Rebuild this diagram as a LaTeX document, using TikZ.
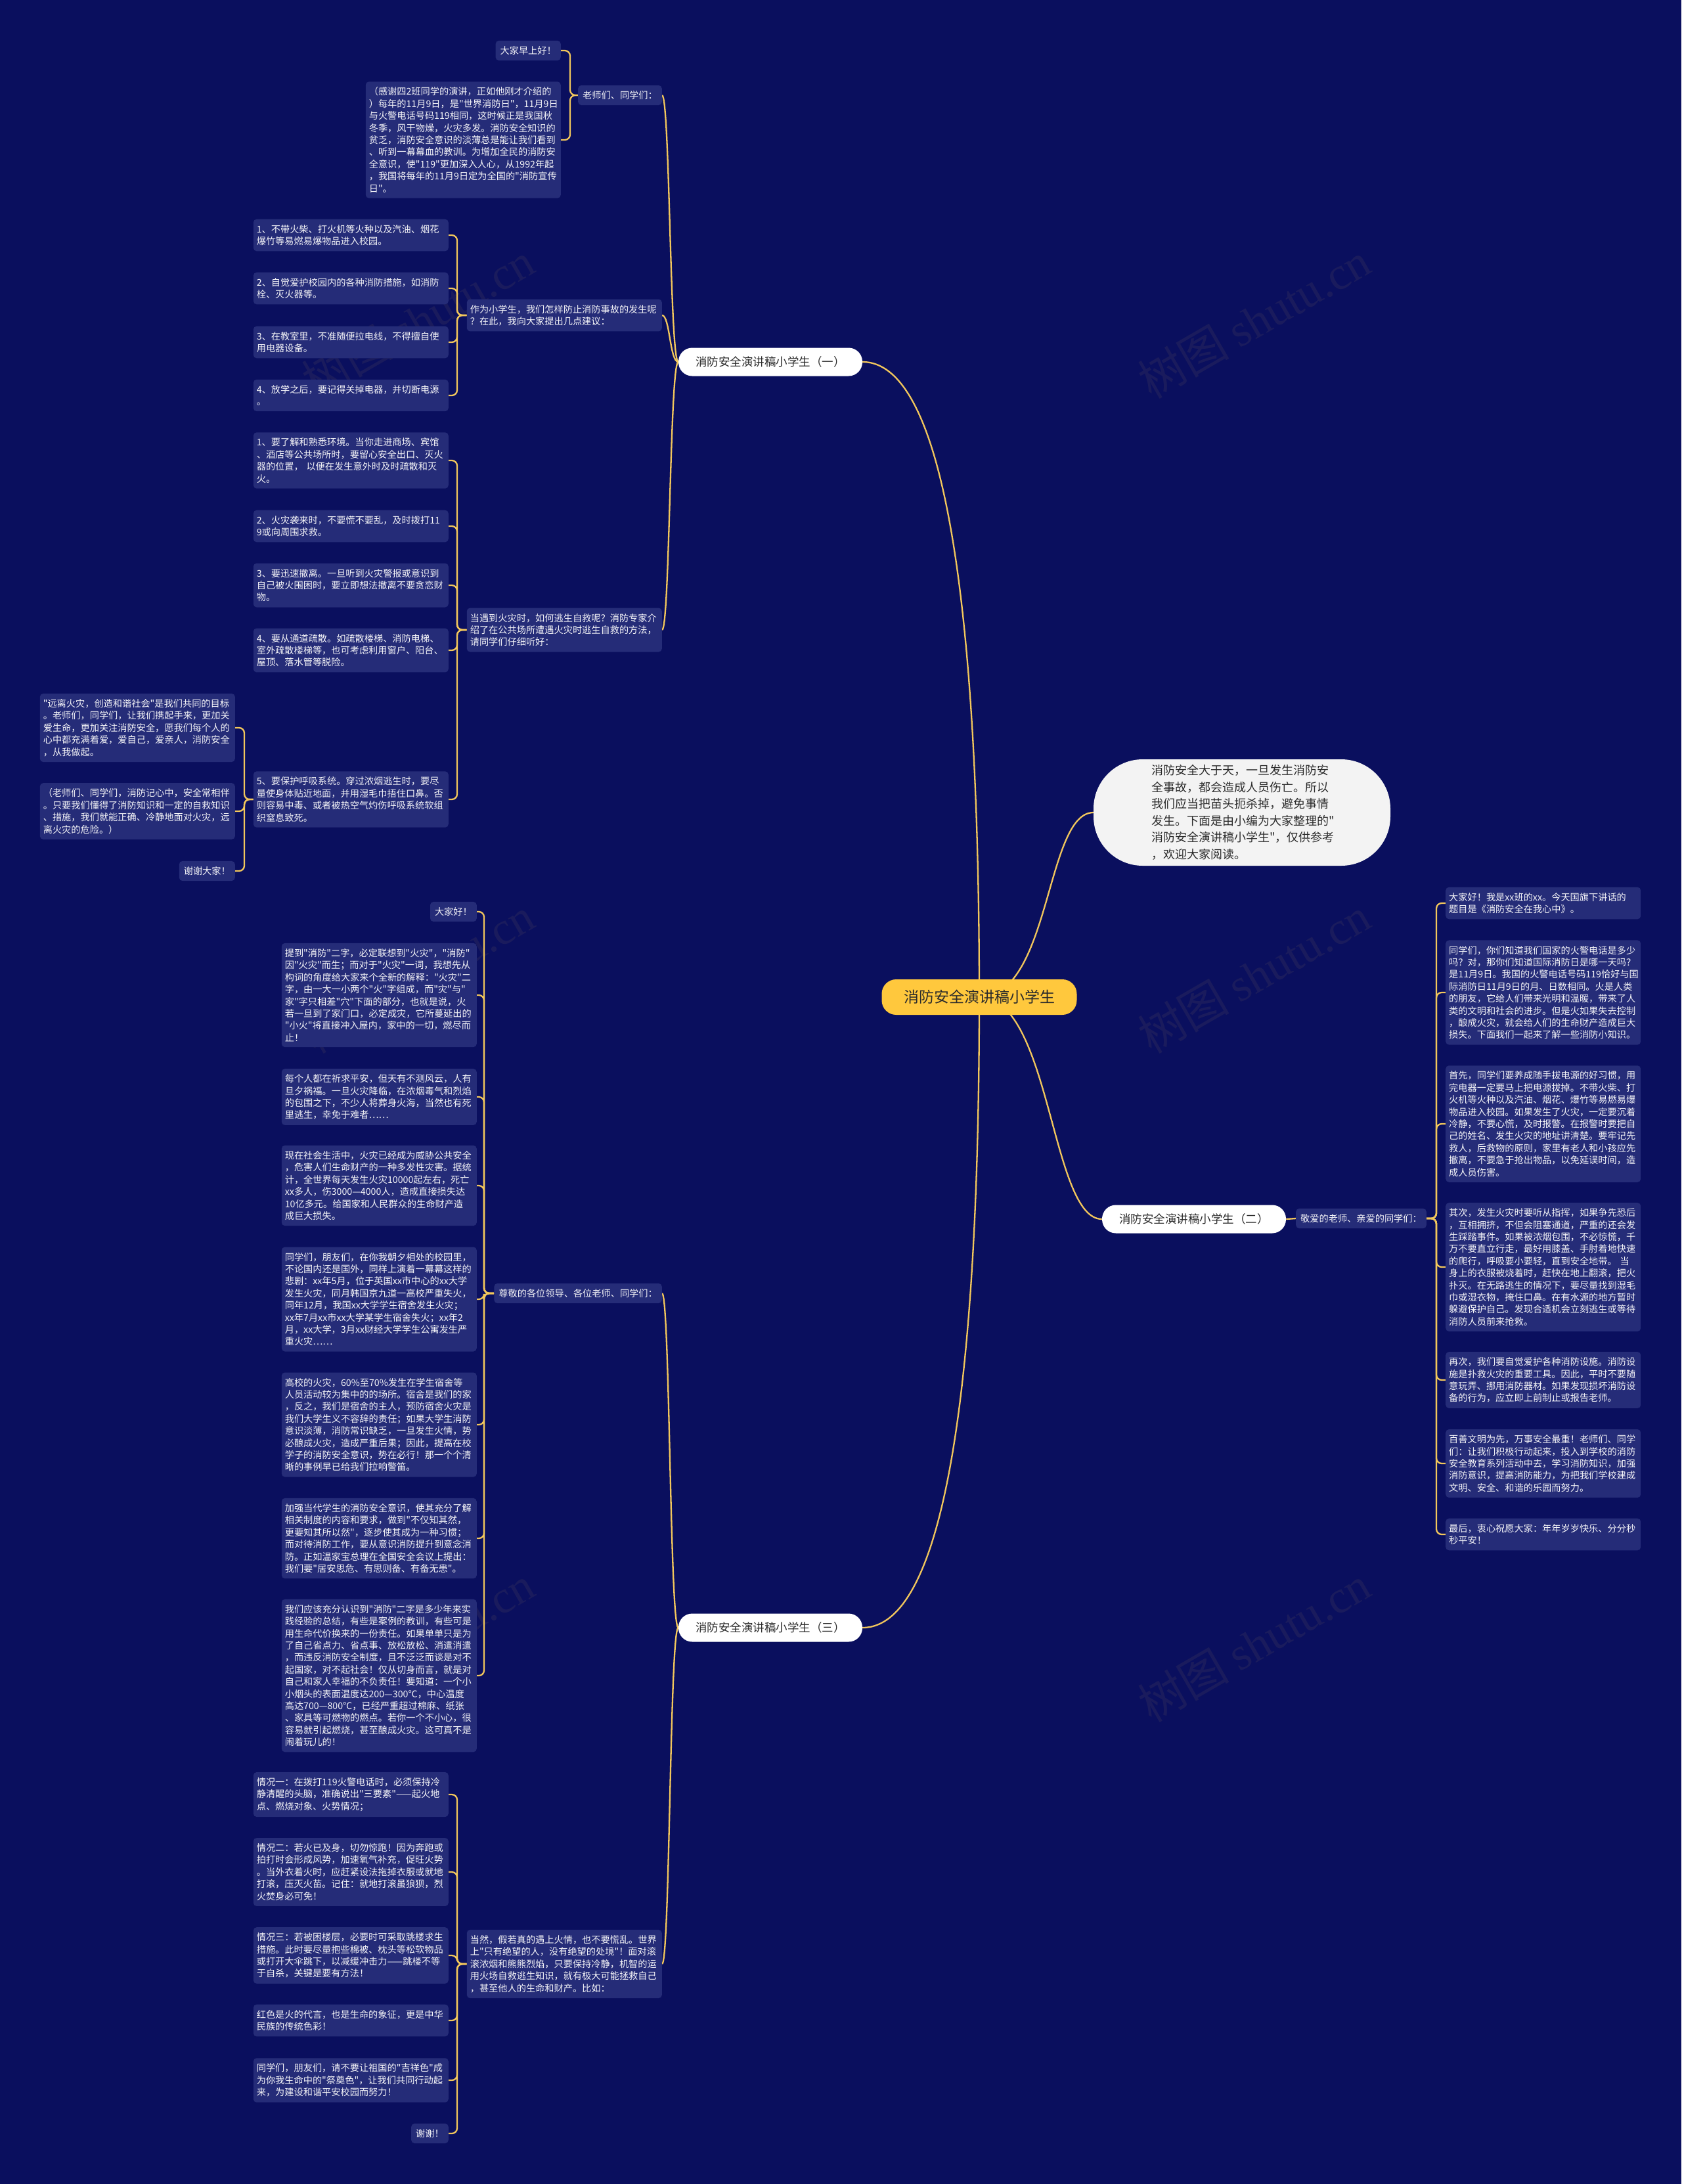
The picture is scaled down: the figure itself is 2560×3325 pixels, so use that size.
\documentclass[tikz,border=0pt]{standalone}
\usepackage{fontspec}
\setmainfont{Noto Sans CJK SC}[Ligatures=TeXOff]
\newfontfamily\wmserif{Liberation Serif}
\usetikzlibrary{backgrounds}
\definecolor{navy}{HTML}{0A0F5E}
\definecolor{boxblue}{HTML}{252C78}
\definecolor{gold}{HTML}{F2C75C}
\definecolor{rootgold}{HTML}{FFC83D}
\definecolor{pale}{HTML}{F3F3F3}
\definecolor{ink}{HTML}{2B2B2B}
\definecolor{paper}{HTML}{F4F4F8}

\begin{document}
\begin{tikzpicture}[x=1pt, y=-1pt,
  box/.style={fill=boxblue, text=paper, rounded corners=5pt, inner xsep=7pt, inner ysep=8.5pt, font=\fontsize{14.2}{18.4}\selectfont},
  leaf/.style={box, inner xsep=5pt, text width=287pt, align=left},
  rootnode/.style={fill=rootgold, text=ink, rounded corners=22pt, minimum width=297pt, minimum height=54pt, font=\fontsize{23}{28}\selectfont},
  branch/.style={fill=white, text=ink, rounded corners=21pt, minimum width=280pt, minimum height=43pt, font=\fontsize{17.5}{21}\selectfont},
  introbox/.style={fill=pale, text=ink, rounded corners=75pt, minimum width=452pt, minimum height=162pt, text width=276pt, align=left, font=\fontsize{18}{25.5}\selectfont},
  wmark/.style={text=gold, opacity=0.07, rotate=30, font=\fontsize{70}{80}\selectfont},
  link/.style={draw=gold, line width=2.3pt},
  elbow/.style={link, rounded corners=8pt}]

\useasboundingbox (0,0) rectangle (2560,3325);

% centre and first level
\node[rootnode] (c) at (1491,1518) {消防安全演讲稿小学生};
\node[branch] (b1) at (1173,551) {消防安全演讲稿小学生（一）};
\node[branch] (b2) at (1818,1856) {消防安全演讲稿小学生（二）};
\node[branch] (b3) at (1173,2478) {消防安全演讲稿小学生（三）};
\node[introbox] (intro) at (1891,1237) {消防安全大于天，一旦发生消防安\\全事故，都会造成人员伤亡。所以\\我们应当把苗头扼杀掉，避免事情\\发生。下面是由小编为大家整理的"\\消防安全演讲稿小学生"，仅供参考\\，欢迎大家阅读。};

% branch one
\node[box, anchor=east] (k0) at (1008,145) {老师们、同学们：};
\node[box, anchor=east] (q0) at (854,77) {大家早上好！};
\node[leaf, anchor=east] (q1) at (854,213) {（感谢四2班同学的演讲，正如他刚才介绍的\\）每年的11月9日，是"世界消防日"，11月9日\\与火警电话号码119相同，这时候正是我国秋\\冬季，风干物燥，火灾多发。消防安全知识的\\贫乏，消防安全意识的淡薄总是能让我们看到\\、听到一幕幕血的教训。为增加全民的消防安\\全意识，使"119"更加深入人心，从1992年起\\，我国将每年的11月9日定为全国的"消防宣传\\日"。};

\node[leaf, anchor=east] (p1) at (1008,480) {作为小学生，我们怎样防止消防事故的发生呢\\？在此，我向大家提出几点建议：};
\node[leaf, anchor=east] (s1) at (683,358) {1、不带火柴、打火机等火种以及汽油、烟花\\爆竹等易燃易爆物品进入校园。};
\node[leaf, anchor=east] (s2) at (683,439) {2、自觉爱护校园内的各种消防措施，如消防\\栓、灭火器等。};
\node[leaf, anchor=east] (s3) at (683,521) {3、在教室里，不准随便拉电线，不得擅自使\\用电器设备。};
\node[leaf, anchor=east] (s4) at (683,602) {4、放学之后，要记得关掉电器，并切断电源\\。};

\node[leaf, anchor=east] (p2) at (1008,959) {当遇到火灾时，如何逃生自救呢？消防专家介\\绍了在公共场所遭遇火灾时逃生自救的方法，\\请同学们仔细听好：};
\node[leaf, anchor=east] (f1) at (683,701) {1、要了解和熟悉环境。当你走进商场、宾馆\\、酒店等公共场所时，要留心安全出口、灭火\\器的位置， 以便在发生意外时及时疏散和灭\\火。};
\node[leaf, anchor=east] (f2) at (683,801) {2、火灾袭来时，不要慌不要乱，及时拨打11\\9或向周围求救。};
\node[leaf, anchor=east] (f3) at (683,891) {3、要迅速撤离。一旦听到火灾警报或意识到\\自己被火围困时，要立即想法撤离不要贪恋财\\物。};
\node[leaf, anchor=east] (f4) at (683,990) {4、要从通道疏散。如疏散楼梯、消防电梯、\\室外疏散楼梯等，也可考虑利用窗户、阳台、\\屋顶、落水管等脱险。};
\node[leaf, anchor=east] (f5) at (683,1217) {5、要保护呼吸系统。穿过浓烟逃生时，要尽\\量使身体贴近地面，并用湿毛巾捂住口鼻。否\\则容易中毒、或者被热空气灼伤呼吸系统软组\\织窒息致死。};

\node[leaf, anchor=east] (l1) at (358,1108) {"远离火灾，创造和谐社会"是我们共同的目标\\。老师们，同学们，让我们携起手来，更加关\\爱生命，更加关注消防安全，愿我们每个人的\\心中都充满着爱，爱自己，爱亲人，消防安全\\，从我做起。};
\node[leaf, anchor=east] (l2) at (358,1235) {（老师们、同学们，消防记心中，安全常相伴\\。只要我们懂得了消防知识和一定的自救知识\\、措施，我们就能正确、冷静地面对火灾，远\\离火灾的危险。）};
\node[box, anchor=east] (l3) at (358,1326) {谢谢大家！};

% branch two
\node[box, anchor=west] (m2) at (1973,1855) {敬爱的老师、亲爱的同学们：};
\node[leaf, anchor=west] (r1) at (2201,1375) {大家好！我是xx班的xx。今天国旗下讲话的\\题目是《消防安全在我心中》。};
\node[leaf, anchor=west] (r2) at (2201,1511) {同学们，你们知道我们国家的火警电话是多少\\吗？对，那你们知道国际消防日是哪一天吗？\\是11月9日。我国的火警电话号码119恰好与国\\际消防日11月9日的月、日数相同。火是人类\\的朋友，它给人们带来光明和温暖，带来了人\\类的文明和社会的进步。但是火如果失去控制\\，酿成火灾，就会给人们的生命财产造成巨大\\损失。下面我们一起来了解一些消防小知识。};
\node[leaf, anchor=west] (r3) at (2201,1711) {首先，同学们要养成随手拔电源的好习惯，用\\完电器一定要马上把电源拔掉。不带火柴、打\\火机等火种以及汽油、烟花、爆竹等易燃易爆\\物品进入校园。如果发生了火灾，一定要沉着\\冷静，不要心慌，及时报警。在报警时要把自\\己的姓名、发生火灾的地址讲清楚。要牢记先\\救人，后救物的原则，家里有老人和小孩应先\\撤离，不要急于抢出物品，以免延误时间，造\\成人员伤害。};
\node[leaf, anchor=west] (r4) at (2201,1929) {其次，发生火灾时要听从指挥，如果争先恐后\\，互相拥挤，不但会阻塞通道，严重的还会发\\生踩踏事件。如果被浓烟包围，不必惊慌，千\\万不要直立行走，最好用膝盖、手肘着地快速\\的爬行，呼吸要小要轻，直到安全地带。 当\\身上的衣服被烧着时，赶快在地上翻滚，把火\\扑灭。在无路逃生的情况下，要尽量找到湿毛\\巾或湿衣物，掩住口鼻。在有水源的地方暂时\\躲避保护自己。发现合适机会立刻逃生或等待\\消防人员前来抢救。};
\node[leaf, anchor=west] (r5) at (2201,2101) {再次，我们要自觉爱护各种消防设施。消防设\\施是扑救火灾的重要工具。因此，平时不要随\\意玩弄、挪用消防器材。如果发现损坏消防设\\备的行为，应立即上前制止或报告老师。};
\node[leaf, anchor=west] (r6) at (2201,2228) {百善文明为先，万事安全最重！老师们、同学\\们：让我们积极行动起来，投入到学校的消防\\安全教育系列活动中去，学习消防知识，加强\\消防意识，提高消防能力，为把我们学校建成\\文明、安全、和谐的乐园而努力。};
\node[leaf, anchor=west] (r7) at (2201,2336) {最后，衷心祝愿大家：年年岁岁快乐、分分秒\\秒平安！};

% branch three
\node[box, anchor=east] (m3) at (1008,1969) {尊敬的各位领导、各位老师、同学们：};
\node[box, anchor=east] (t0) at (726,1388) {大家好！};
\node[leaf, anchor=east] (t1) at (726,1515) {提到"消防"二字，必定联想到"火灾"，"消防"\\因"火灾"而生；而对于"火灾"一词，我想先从\\构词的角度给大家来个全新的解释："火灾"二\\字，由一大一小两个"火"字组成，而"灾"与"\\家"字只相差"穴"下面的部分，也就是说，火\\若一旦到了家门口，必定成灾，它所蔓延出的\\"小火"将直接冲入屋内，家中的一切，燃尽而\\止！};
\node[leaf, anchor=east] (t2) at (726,1670) {每个人都在祈求平安，但天有不测风云，人有\\旦夕祸福。一旦火灾降临，在浓烟毒气和烈焰\\的包围之下，不少人将葬身火海，当然也有死\\里逃生，幸免于难者……};
\node[leaf, anchor=east] (t3) at (726,1805) {现在社会生活中，火灾已经成为威胁公共安全\\，危害人们生命财产的一种多发性灾害。据统\\计，全世界每天发生火灾10000起左右，死亡\\xx多人，伤3000—4000人，造成直接损失达\\10亿多元。给国家和人民群众的生命财产造\\成巨大损失。};
\node[leaf, anchor=east] (t4) at (726,1978) {同学们，朋友们，在你我朝夕相处的校园里，\\不论国内还是国外，同样上演着一幕幕这样的\\悲剧：xx年5月，位于英国xx市中心的xx大学\\发生火灾，同月韩国京九道一高校严重失火，\\同年12月，我国xx大学学生宿舍发生火灾；\\xx年7月xx市xx大学某学生宿舍失火；xx年2\\月，xx大学，3月xx财经大学学生公寓发生严\\重火灾……};
\node[leaf, anchor=east] (t5) at (726,2169) {高校的火灾，60\%至70\%发生在学生宿舍等\\人员活动较为集中的的场所。宿舍是我们的家\\，反之，我们是宿舍的主人，预防宿舍火灾是\\我们大学生义不容辞的责任；如果大学生消防\\意识淡薄，消防常识缺乏，一旦发生火情，势\\必酿成火灾，造成严重后果；因此，提高在校\\学子的消防安全意识，势在必行！那一个个清\\晰的事例早已给我们拉响警笛。};
\node[leaf, anchor=east] (t6) at (726,2342) {加强当代学生的消防安全意识，使其充分了解\\相关制度的内容和要求，做到"不仅知其然，\\更要知其所以然"，逐步使其成为一种习惯；\\而对待消防工作，要从意识消防提升到意念消\\防。正如温家宝总理在全国安全会议上提出：\\我们要"居安思危、有思则备、有备无患"。};
\node[leaf, anchor=east] (t7) at (726,2551) {我们应该充分认识到"消防"二字是多少年来实\\践经验的总结，有些是案例的教训，有些可是\\用生命代价换来的一份责任。如果单单只是为\\了自己省点力、省点事、放松放松、消遣消遣\\，而违反消防安全制度，且不泛泛而谈是对不\\起国家，对不起社会！仅从切身而言，就是对\\自己和家人幸福的不负责任！要知道：一个小\\小烟头的表面温度达200—300℃，中心温度\\高达700—800℃，已经严重超过棉麻、纸张\\、家具等可燃物的燃点。若你一个不小心，很\\容易就引起燃烧，甚至酿成火灾。这可真不是\\闹着玩儿的！};

\node[leaf, anchor=east] (p3) at (1008,2990) {当然，假若真的遇上火情，也不要慌乱。世界\\上"只有绝望的人，没有绝望的处境"！面对滚\\滚浓烟和熊熊烈焰，只要保持冷静，机智的运\\用火场自救逃生知识，就有极大可能拯救自己\\，甚至他人的生命和财产。比如：};
\node[leaf, anchor=east] (u1) at (683,2732) {情况一：在拨打119火警电话时，必须保持冷\\静清醒的头脑，准确说出"三要素"——起火地\\点、燃烧对象、火势情况；};
\node[leaf, anchor=east] (u2) at (683,2850) {情况二：若火已及身，切勿惊跑！因为奔跑或\\拍打时会形成风势，加速氧气补充，促旺火势\\。当外衣着火时，应赶紧设法拖掉衣服或就地\\打滚，压灭火苗。记住：就地打滚虽狼狈，烈\\火焚身必可免！};
\node[leaf, anchor=east] (u3) at (683,2977) {情况三：若被困楼层，必要时可采取跳楼求生\\措施。此时要尽量抱些棉被、枕头等松软物品\\或打开大伞跳下，以减缓冲击力——跳楼不等\\于自杀，关键是要有方法！};
\node[leaf, anchor=east] (u4) at (683,3076) {红色是火的代言，也是生命的象征，更是中华\\民族的传统色彩！};
\node[leaf, anchor=east] (u5) at (683,3167) {同学们，朋友们，请不要让祖国的"吉祥色"成\\为你我生命中的"祭奠色"，让我们共同行动起\\来，为建设和谐平安校园而努力！};
\node[box, anchor=east] (u6) at (683,3248) {谢谢！};

\begin{scope}[on background layer]
\fill[navy] (0,0) rectangle (2560,3325);
\foreach \wx/\wy [count=\i] in {636/488, 1909/488, 636/1485, 1909/1485, 636/2503, 1909/2503}
  \node[wmark] (wm\i) at (\wx,\wy) {树图 {\wmserif shutu.cn}};

% centre to first level
\draw[link] (b1.east) .. controls +(137,0) and +(0,-518) .. (c.center);
\draw[link] (b3.east) .. controls +(137,0) and +(0,518) .. (c.center);
\draw[link] (c.center) .. controls +(109,0) and +(-73,0) .. (intro.west);
\draw[link] (c.center) .. controls +(109,0) and +(-78,0) .. (b2.west);

% first level to second level
\foreach \n in {k0,p1,p2}
  \draw[link] (b1.west) .. controls +(-13,0) and +(12,0) .. (\n.east);
\foreach \n in {m3,p3}
  \draw[link] (b3.west) .. controls +(-13,0) and +(12,0) .. (\n.east);
\draw[link] (b2.east) -- (m2.west);

% brackets
\foreach \n in {q0,q1}
  \draw[elbow] (\n.east) -- ++(14,0) |- (k0.west);
\foreach \n in {s1,s2,s3,s4}
  \draw[elbow] (\n.east) -- ++(13,0) |- (p1.west);
\foreach \n in {f1,f2,f3,f4,f5}
  \draw[elbow] (\n.east) -- ++(13,0) |- (p2.west);
\foreach \n in {l1,l2,l3}
  \draw[elbow] (\n.east) -- ++(14,0) |- (f5.west);
\foreach \n in {r1,r2,r3,r4,r5,r6,r7}
  \draw[elbow] (\n.west) -- ++(-14,0) |- (m2.east);
\foreach \n in {t0,t1,t2,t3,t4,t5,t6,t7}
  \draw[elbow] (\n.east) -- ++(11,0) |- (m3.west);
\foreach \n in {u1,u2,u3,u4,u5,u6}
  \draw[elbow] (\n.east) -- ++(13,0) |- (p3.west);
\end{scope}

\end{tikzpicture}
\end{document}
